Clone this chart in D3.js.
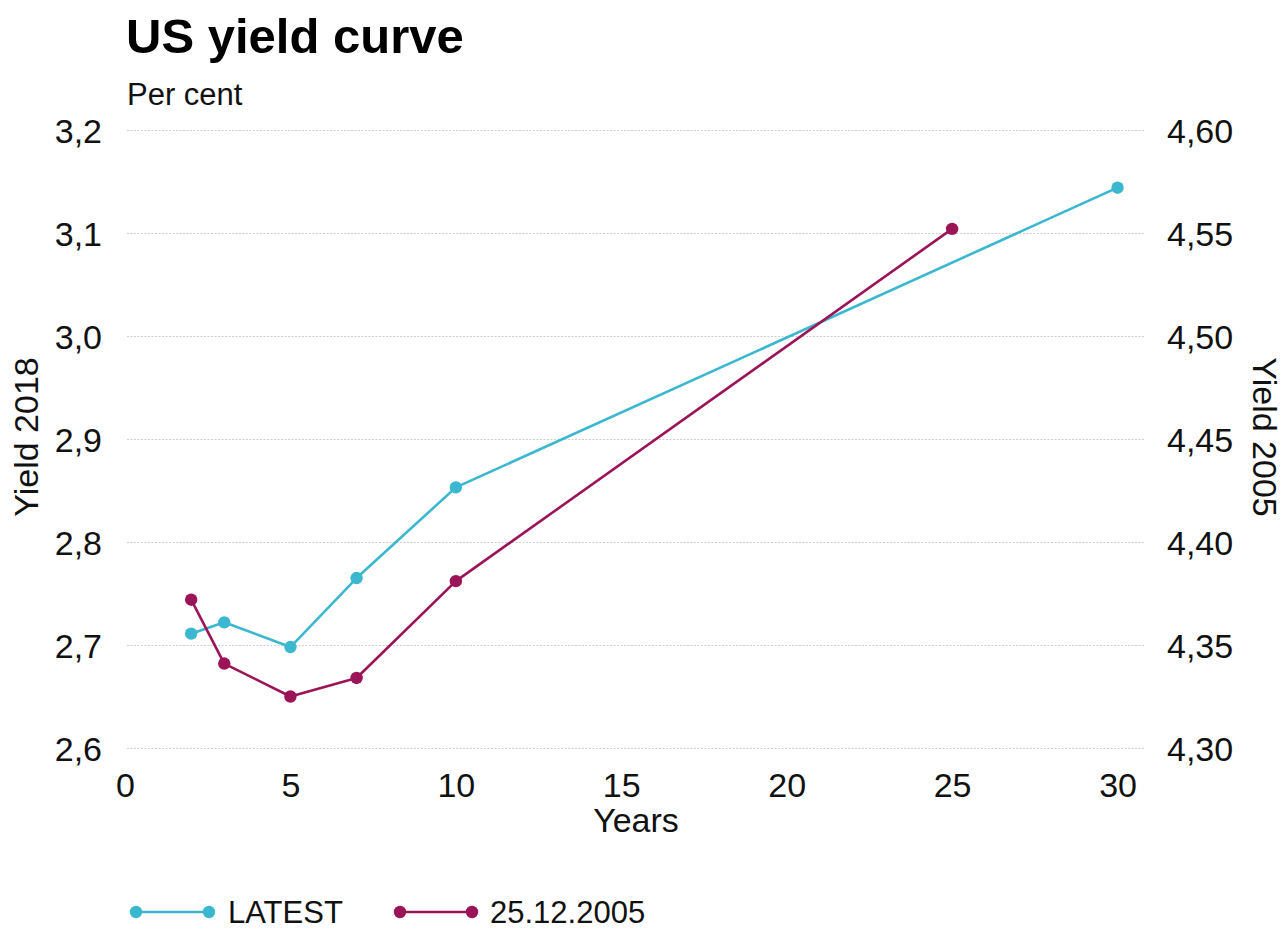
<!DOCTYPE html>
<html>
<head>
<meta charset="utf-8">
<script src="https://cdn.jsdelivr.net/npm/d3@7"></script>
<style>
  html, body { margin: 0; padding: 0; background: #fff; }
  svg { display: block; font-family: "Liberation Sans", Arial, sans-serif; }
</style>
</head>
<body>
<svg id="chart" width="1283" height="929"></svg>
<script>
// Maturities in years and yields in per cent
const maturitiesLatest = [2, 3, 5, 7, 10, 30];
const yieldLatest = [2.711, 2.722, 2.698, 2.765, 2.853, 3.144];
const maturities2005 = [2, 3, 5, 7, 10, 25];
const yield2005 = [4.372, 4.341, 4.325, 4.334, 4.381, 4.552];

const xTicks = [0, 5, 10, 15, 20, 25, 30];
const leftTicks = [2.6, 2.7, 2.8, 2.9, 3.0, 3.1, 3.2];
const rightTicks = [4.30, 4.35, 4.40, 4.45, 4.50, 4.55, 4.60];

const seriesNames = ["LATEST", "25.12.2005"];
const colors = ["#3cb7d0", "#9b1458"];

const FONT = "Liberation Sans, Arial, sans-serif";
const svg = d3.select("#chart");
const plot = { left: 125, right: 1144, top: 130, bottom: 748 };

const x = d3.scaleLinear().domain([0, 30.8]).range([plot.left, plot.right]);
const yL = d3.scaleLinear().domain([2.6, 3.2]).range([plot.bottom, plot.top]);
const yR = d3.scaleLinear().domain([4.30, 4.60]).range([plot.bottom, plot.top]);

const comma = (d, n) => d.toFixed(n).replace(".", ",");

// Horizontal dotted gridlines
svg.append("g")
  .selectAll("line")
  .data(leftTicks)
  .join("line")
  .attr("x1", plot.left + 2)
  .attr("x2", plot.right)
  .attr("y1", d => Math.round(yL(d)) + 0.5)
  .attr("y2", d => Math.round(yL(d)) + 0.5)
  .attr("stroke", "#cfcfcf")
  .attr("stroke-width", 1)
  .attr("stroke-dasharray", "2,1.5");

function styleTicks(g) {
  g.select(".domain").remove();
  g.selectAll("text")
    .attr("font-size", 34).attr("fill", "#111")
    .attr("font-family", FONT);
}

// Left axis
svg.append("g")
  .attr("transform", `translate(${102 + 3},0)`)
  .call(d3.axisLeft(yL).tickValues(leftTicks).tickSize(0).tickFormat(d => comma(d, 1)))
  .call(styleTicks)
  .selectAll("text").attr("dy", "0.36em");

// Right axis
svg.append("g")
  .attr("transform", `translate(${1167 - 3},0)`)
  .call(d3.axisRight(yR).tickValues(rightTicks).tickSize(0).tickFormat(d => comma(d, 2)))
  .call(styleTicks)
  .selectAll("text").attr("dy", "0.36em");

// Bottom axis
svg.append("g")
  .attr("transform", `translate(0,${773 - 3})`)
  .call(d3.axisBottom(x).tickValues(xTicks).tickSize(0).tickFormat(d3.format("d")))
  .call(styleTicks)
  .selectAll("text").attr("dy", "0.71em");

// Axis titles
svg.append("text")
  .attr("x", 636).attr("y", 832)
  .attr("text-anchor", "middle").attr("font-size", 34).attr("fill", "#111")
  .text("Years");
svg.append("text")
  .attr("transform", "translate(38,437) rotate(-90)")
  .attr("text-anchor", "middle").attr("font-size", 34).attr("fill", "#111")
  .text("Yield 2018");
svg.append("text")
  .attr("transform", "translate(1253,437) rotate(90)")
  .attr("text-anchor", "middle").attr("font-size", 34).attr("fill", "#111")
  .text("Yield 2005");

// Title and subtitle
svg.append("text")
  .attr("x", 126).attr("y", 53)
  .attr("font-size", 49).attr("font-weight", "bold").attr("fill", "#000")
  .text("US yield curve");
svg.append("text")
  .attr("x", 127).attr("y", 105)
  .attr("font-size", 31).attr("fill", "#111")
  .text("Per cent");

// Series
const series = [
  { name: seriesNames[0], xs: maturitiesLatest, ys: yieldLatest, y: yL, color: colors[0] },
  { name: seriesNames[1], xs: maturities2005, ys: yield2005, y: yR, color: colors[1] }
];

series.forEach(s => {
  const pts = s.xs.map((m, i) => [m, s.ys[i]]);
  const line = d3.line().x(d => x(d[0])).y(d => s.y(d[1]));
  const g = svg.append("g");
  g.append("path")
    .datum(pts)
    .attr("d", line)
    .attr("fill", "none")
    .attr("stroke", s.color)
    .attr("stroke-width", 2.6)
    .attr("stroke-linejoin", "round");
  g.selectAll("circle")
    .data(pts)
    .join("circle")
    .attr("cx", d => x(d[0]))
    .attr("cy", d => s.y(d[1]))
    .attr("r", 6.2)
    .attr("fill", s.color);
});

// Legend
const legendY = 912;
const legendItems = [
  { x0: 136, x1: 209, tx: 228 },
  { x0: 400, x1: 472, tx: 490 }
];
series.forEach((s, i) => {
  const L = legendItems[i];
  const g = svg.append("g");
  g.append("line")
    .attr("x1", L.x0).attr("x2", L.x1)
    .attr("y1", legendY).attr("y2", legendY)
    .attr("stroke", s.color).attr("stroke-width", 2.6);
  g.selectAll("circle")
    .data([L.x0, L.x1])
    .join("circle")
    .attr("cx", d => d).attr("cy", legendY).attr("r", 6.2)
    .attr("fill", s.color);
  g.append("text")
    .attr("x", L.tx).attr("y", legendY)
    .attr("dy", "0.34em")
    .attr("font-size", 31).attr("fill", "#111")
    .text(s.name);
});
</script>
</body>
</html>
